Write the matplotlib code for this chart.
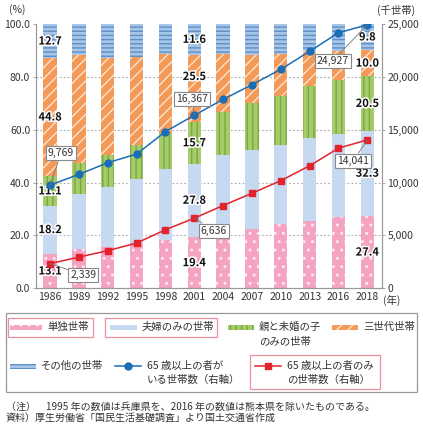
import matplotlib
matplotlib.use("Agg")
import matplotlib.pyplot as plt
import matplotlib.patheffects as pe
from matplotlib.patches import Rectangle
from matplotlib.lines import Line2D
import numpy as np

plt.rcParams['font.family'] = ['Noto Sans CJK JP', 'DejaVu Sans']
plt.rcParams['hatch.linewidth'] = 1.0

years = ['1986', '1989', '1992', '1995', '1998', '2001', '2004', '2007', '2010', '2013', '2016', '2018']
single = [13.1, 14.8, 15.7, 17.3, 18.4, 19.4, 20.9, 22.5, 24.2, 25.6, 27.1, 27.4]
couple = [18.2, 20.9, 22.8, 24.2, 26.7, 27.8, 29.4, 29.8, 29.9, 31.1, 31.1, 32.3]
parent_child = [11.1, 11.7, 12.1, 12.9, 13.7, 15.7, 16.4, 17.7, 18.5, 19.8, 20.7, 20.5]
three_gen = [44.8, 40.7, 36.6, 33.3, 29.7, 25.5, 21.9, 18.3, 16.2, 13.2, 11.0, 10.0]
other = [12.7, 11.9, 12.8, 12.2, 11.6, 11.6, 11.4, 11.7, 11.2, 10.4, 10.0, 9.8]
hh_with_65 = [9769, 10774, 11884, 12695, 14822, 16367, 17864, 19263, 20705, 22420, 24165, 24927]
hh_only_65 = [2339, 2950, 3560, 4280, 5540, 6636, 7830, 8990, 10180, 11590, 13250, 14041]
series_names = ['単独世帯', '夫婦のみの世帯', '親と未婚の子\nのみの世帯', '三世代世帯', 'その他の世帯']
line_names = ['65 歳以上の者が\nいる世帯数（右軸）', '65 歳以上の者のみ\nの世帯数（右軸）']
labeled_years = ['1986', '2001', '2018']
line_labeled_years = ['1986', '2001', '2018']

W, H = 423, 428
fig = plt.figure(figsize=(W / 100, H / 100), dpi=100)
ax = fig.add_axes([35.7 / W, 1 - 288.3 / H, (381.7 - 35.7) / W, (288.3 - 24) / H])
ax2 = ax.twinx()
ax.set_zorder(2)
ax2.set_zorder(3)
ax.patch.set_visible(False)

styles = [
    dict(color='#f4a3c3', hatch='..', edgecolor='#fde8f0'),
    dict(color='#c7d9f0', hatch=None, edgecolor='#c7d9f0'),
    dict(color='#a4cc68', hatch='|||', edgecolor='#7aa846'),
    dict(color='#f49a58', hatch='///', edgecolor='#fde3cf'),
    dict(color='#a6c5e8', hatch='----', edgecolor='#5f8fc6'),
]

x = np.arange(len(years))
stacks = [single, couple, parent_child, three_gen, other]
bottom = np.zeros(len(years))
tc = '#333333'
for vals, st in zip(stacks, styles):
    vals = np.array(vals)
    ax.bar(x, vals, bottom=bottom, width=0.46, facecolor=st['color'],
           edgecolor=st['edgecolor'], hatch=st['hatch'], linewidth=0, zorder=2)
    for yr in labeled_years:
        i = years.index(yr)
        cy = bottom[i] + vals[i] / 2
        if yr == '2001' and st['hatch'] == '///':
            cy += 4.5
        ax.text(i, cy, f'{vals[i]:.1f}', ha='center', va='center', fontsize=8,
                fontweight='bold', color='#111111', zorder=5,
                path_effects=[pe.withStroke(linewidth=2.2, foreground='white')])
    bottom += vals

ax.set_xlim(-0.5, 11.5)
ax.set_ylim(0, 100)
ax.set_yticks([0, 20, 40, 60, 80, 100])
ax.set_yticklabels([f'{v:.1f}' for v in [0, 20, 40, 60, 80, 100]])
ax.set_xticks(x)
ax.set_xticklabels(years)
ax.set_axisbelow(True)
for yv in [20, 40, 60, 80]:
    ax.axhline(yv, color='#aaaaaa', lw=0.8, ls=(0, (1.5, 2)), zorder=0)

blue = '#1b6db5'
red = '#e1232b'
ax2.plot(x, hh_with_65, color=blue, lw=1.1, marker='o', ms=5, zorder=4)
ax2.plot(x, hh_only_65, color=red, lw=1.1, marker='s', ms=4.3, zorder=4)
ax2.set_ylim(0, 25000)
ax2.set_yticks([0, 5000, 10000, 15000, 20000, 25000])
ax2.set_yticklabels(['0', '5,000', '10,000', '15,000', '20,000', '25,000'])

offs_blue = [(7.9, 23.2), (-1.4, 11.9), (-24.8, -25.8)]
offs_red = [(23.8, -8.1), (14, -9.1), (-10, -15)]
bbox = dict(boxstyle='square,pad=0.2', fc='white', ec='#888888', lw=0.8)
for yr, ob, orr in zip(line_labeled_years, offs_blue, offs_red):
    i = years.index(yr)
    for series, off in ((hh_with_65, ob), (hh_only_65, orr)):
        ax2.annotate(f'{series[i]:,}', xy=(i, series[i]), xytext=off,
                     textcoords='offset points', ha='center', va='center',
                     fontsize=7.5, color=tc, bbox=bbox, zorder=6,
                     arrowprops=dict(arrowstyle='-', color='#777777', lw=0.6,
                                     shrinkA=0, shrinkB=0))

for a in (ax, ax2):
    a.spines['top'].set_visible(False)
    for s in ('left', 'right', 'bottom'):
        a.spines[s].set_color('#999999')
        a.spines[s].set_linewidth(0.8)
    a.tick_params(labelsize=7.5, colors='#999999', labelcolor=tc, length=2, width=0.6)
ax.tick_params(axis='x', length=0, pad=3)
ax.tick_params(axis='y', pad=2)
ax2.tick_params(axis='y', pad=2)

ov = fig.add_axes([0, 0, 1, 1], zorder=10)
ov.set_xlim(0, W)
ov.set_ylim(H, 0)
ov.axis('off')

ov.text(392, 300, '(年)', fontsize=7.5, color=tc, ha='center', va='center')
ov.text(17, 10, '(%)', fontsize=7.5, color=tc, ha='center', va='center')
ov.text(396, 10, '(千世帯)', fontsize=7.5, color=tc, ha='center', va='center')

# legend
ov.add_patch(Rectangle((6, 313), 411, 79, fill=False, ec='#999999', lw=0.9))
frame_c = '#ec8f9e'
ov.add_patch(Rectangle((7.5, 318), 85.5, 19, fill=False, ec=frame_c, lw=0.9))
ov.add_patch(Rectangle((105, 318), 112, 19, fill=False, ec=frame_c, lw=0.9))
ov.add_patch(Rectangle((250, 355), 130, 34, fill=False, ec=frame_c, lw=0.9))

patch_pos = [(10, 327, 32), (110, 327, 27), (228, 327, 26), (332, 327, 26), (10, 366, 26)]
for (px, py, pw), st, name in zip(patch_pos, styles, series_names):
    ov.add_patch(Rectangle((px, py - 2.5), pw, 5, facecolor=st['color'],
                           edgecolor=st['edgecolor'], hatch=st['hatch'], lw=0))
    ov.text(px + pw + 5, py - 0.5, name.split('\n')[0],
            fontsize=7.5, color=tc, ha='left', va='center')
    if '\n' in name:
        ov.text(px + pw + 5, py + 14.5, name.split('\n')[1], fontsize=7.5, color=tc,
                ha='left', va='center')

for (lx, col, mk, ms), name in zip([(115, blue, 'o', 5), (255, red, 's', 4.3)], line_names):
    ov.add_line(Line2D([lx, lx + 26], [366, 366], color=col, lw=1.1))
    ov.add_line(Line2D([lx + 13], [366], color=col, marker=mk, ms=ms))
    l1, l2 = name.split('\n')
    ov.text(lx + 32, 366, l1, fontsize=7.5, color=tc, ha='left', va='center')
    ov.text(lx + 32, 380, l2, fontsize=7.5, color=tc, ha='left', va='center')

ov.text(6, 406.5, '（注）　1995 年の数値は兵庫県を、2016 年の数値は熊本県を除いたものである。',
        fontsize=7.2, color=tc, ha='left', va='center')
ov.text(6, 417.5, '資料）厚生労働省「国民生活基礎調査」より国土交通省作成',
        fontsize=7.2, color=tc, ha='left', va='center')

fig.savefig('out.png', dpi=100)
